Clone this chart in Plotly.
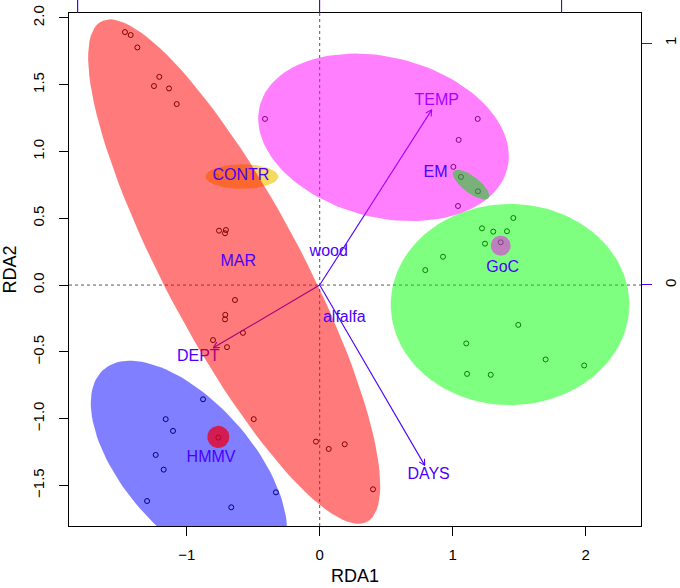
import numpy as np
import plotly.graph_objects as go

# site scores (RDA1, RDA2)
site_x = [-1.464, -1.421, -1.371, -1.206, -1.246, -1.133, -1.075, -0.780, -0.757, -0.705, -0.712,
          -0.637, -0.710, -0.712, -0.577, -0.802, -0.697, -0.496, -0.028, 0.068, 0.188, 0.401,
          -0.877, -1.158, -1.103, -0.762, -1.233, -1.173, -1.298, -0.665, -0.329,
          -0.411, 1.188, 1.045, 1.005, 1.062, 1.190, 1.040,
          1.456, 1.220, 1.305, 1.408, 1.243, 1.361, 0.927, 0.794, 1.493, 1.102, 1.699, 1.989, 1.108, 1.286]
site_y = [1.894, 1.872, 1.779, 1.559, 1.490, 1.472, 1.355, 0.812, 0.407, 0.412, 0.388,
          -0.112, -0.223, -0.257, -0.358, -0.412, -0.465, -1.004, -1.172, -1.227, -1.192, -1.529,
          -0.855, -1.004, -1.092, -1.142, -1.272, -1.382, -1.617, -1.664, -1.552,
          1.244, 1.244, 1.087, 0.885, 0.810, 0.702, 0.592,
          0.502, 0.425, 0.400, 0.403, 0.310, 0.320, 0.212, 0.112, -0.298, -0.437, -0.557, -0.602, -0.665, -0.672]

# biplot arrows
arrow_names = ["TEMP", "DEPT", "DAYS"]
arrow_x = [0.842, -0.80, 0.79]
arrow_y = [1.312, -0.47, -1.35]
arrow_lab_x = [0.880, -0.913, 0.819]
arrow_lab_y = [1.379, -0.540, -1.424]

# centroid labels
cent_names = ["CONTR", "MAR", "EM", "GoC", "HMMV", "wood", "alfalfa"]
cent_x = [-0.593, -0.612, 0.871, 1.376, -0.817, 0.068, 0.185]
cent_y = [0.819, 0.175, 0.836, 0.127, -1.295, 0.251, -0.244]

# ellipses: centre, semi-axes, angle (deg), drawn in this order
ell_names = ["blue", "HMMV", "green", "GoC", "magenta", "EM", "CONTR", "red"]
ell_cx = [-0.983, -0.762, 1.431, 1.361, 0.480, 1.138, -0.584, -0.643]
ell_cy = [-1.361, -1.137, -0.146, 0.295, 1.106, 0.752, 0.812, 0.101]
ell_a = [0.971, 0.083, 0.897, 0.075, 0.960, 0.165, 0.273, 2.123]
ell_b = [0.483, 0.083, 0.753, 0.075, 0.600, 0.062, 0.092, 0.515]
ell_ang = [-48.5, 0, 0, 0, -14.1, -37, 0, -61.9]
ell_col = ["rgba(0,0,255,0.5)", "rgba(235,0,30,0.78)", "rgba(0,255,0,0.5)", "rgba(255,0,255,0.5)",
           "rgba(255,0,255,0.5)", "rgba(0,220,0,0.52)", "rgba(240,205,40,0.75)", "rgba(255,0,0,0.52)"]

# biplot-scale ticks (top and right axes)
top_ticks = [-1, 0, 1]
right_ticks = [0, 1]

BLUE = "#4B00FF"
FONT = "Liberation Sans"


def ellipse(cx, cy, a, b, ang, n=120):
    t = np.linspace(0, 2 * np.pi, n)
    th = np.radians(ang)
    x = cx + a * np.cos(t) * np.cos(th) - b * np.sin(t) * np.sin(th)
    y = cy + a * np.cos(t) * np.sin(th) + b * np.sin(t) * np.cos(th)
    return x, y


def arrow(tx, ty, head=0.05, spread=28):
    ang = np.arctan2(ty, tx)
    s = np.radians(spread)
    lx, ly = tx - head * np.cos(ang - s), ty - head * np.sin(ang - s)
    rx, ry = tx - head * np.cos(ang + s), ty - head * np.sin(ang + s)
    return [0, tx, None, lx, tx, rx], [0, ty, None, ly, ty, ry]


fig = go.Figure()

fig.add_trace(go.Scatter(
    x=site_x, y=site_y, mode="markers",
    marker=dict(symbol="circle-open", size=5, color="black", line=dict(width=1)),
    showlegend=False, hoverinfo="skip"
))

for tx, ty in zip(arrow_x, arrow_y):
    ax, ay = arrow(tx, ty)
    fig.add_trace(go.Scatter(x=ax, y=ay, mode="lines", line=dict(color=BLUE, width=1.1),
                             showlegend=False, hoverinfo="skip"))

fig.add_trace(go.Scatter(
    x=arrow_lab_x, y=arrow_lab_y, mode="text", text=arrow_names,
    textfont=dict(family=FONT, size=16, color=BLUE), showlegend=False, hoverinfo="skip"
))

for i in range(len(ell_names)):
    ex, ey = ellipse(ell_cx[i], ell_cy[i], ell_a[i], ell_b[i], ell_ang[i])
    fig.add_trace(go.Scatter(x=ex, y=ey, mode="lines", fill="toself", fillcolor=ell_col[i],
                             line=dict(width=0), showlegend=False, hoverinfo="skip"))

fig.add_trace(go.Scatter(
    x=cent_x, y=cent_y, mode="text", text=cent_names,
    textfont=dict(family=FONT, size=16, color=BLUE), showlegend=False, hoverinfo="skip"
))

# carrier for the biplot-scale axes
fig.add_trace(go.Scatter(x=[0], y=[0], xaxis="x2", yaxis="y2", mode="markers",
                         marker=dict(opacity=0), showlegend=False, hoverinfo="skip"))

fig.add_shape(type="line", x0=0, x1=0, y0=0, y1=1, xref="x", yref="y domain",
              line=dict(color="#555555", width=1, dash="dot"), layer="below")
fig.add_shape(type="line", x0=0, x1=1, y0=0, y1=0, xref="x domain", yref="y",
              line=dict(color="#555555", width=1, dash="dot"), layer="below")

# top tick marks on the biplot scale
for v in top_ticks:
    fig.add_shape(type="line", x0=v, x1=v, y0=1, y1=1 + 13 / 513, xref="x2", yref="paper",
                  line=dict(color=BLUE, width=1))

fig.update_layout(
    width=680, height=588,
    margin=dict(l=69, r=39, t=13, b=62),
    plot_bgcolor="white", paper_bgcolor="white",
    font=dict(family=FONT, size=15, color="black"),
    xaxis=dict(range=[-1.885, 2.416], tickvals=[-1, 0, 1, 2], ticks="outside", ticklen=9,
               tickcolor="black", showline=True, mirror=True, linecolor="black", linewidth=1,
               showgrid=False, zeroline=False, automargin=False, ticklabelstandoff=6,
               ticklabeloverflow="allow",
               title=dict(text="RDA1", standoff=7), tickfont=dict(size=15)),
    yaxis=dict(range=[-1.804, 2.037], tickvals=[-1.5, -1.0, -0.5, 0.0, 0.5, 1.0, 1.5, 2.0],
               tickformat=".1f", ticks="outside", ticklen=9, tickcolor="black", tickangle=-90,
               showline=True, mirror=True, linecolor="black", linewidth=1,
               showgrid=False, zeroline=False, automargin=False, ticklabelstandoff=9,
               ticklabeloverflow="allow",
               title=dict(text="RDA2", standoff=10), tickfont=dict(size=15)),
    xaxis2=dict(overlaying="x", side="top", anchor="y2", range=[-1.036, 1.328],
                tickvals=top_ticks, ticks="outside", ticklen=13, tickcolor=BLUE,
                showticklabels=False, showgrid=False, zeroline=False, showline=False,
                automargin=False),
    yaxis2=dict(overlaying="y", side="right", anchor="x2", range=[-0.996, 1.124],
                tickvals=right_ticks, ticks="outside", ticklen=10, tickcolor=BLUE,
                tickangle=-90, automargin=False, ticklabelstandoff=6,
                ticklabeloverflow="allow", showgrid=False, zeroline=False, showline=False,
                tickfont=dict(size=15)),
)

# drop the default page margin so the 680x588 figure fills the window exactly
fig.write_html("out.html", config={"displayModeBar": False},
               post_script="document.body.style.margin = '0';")
